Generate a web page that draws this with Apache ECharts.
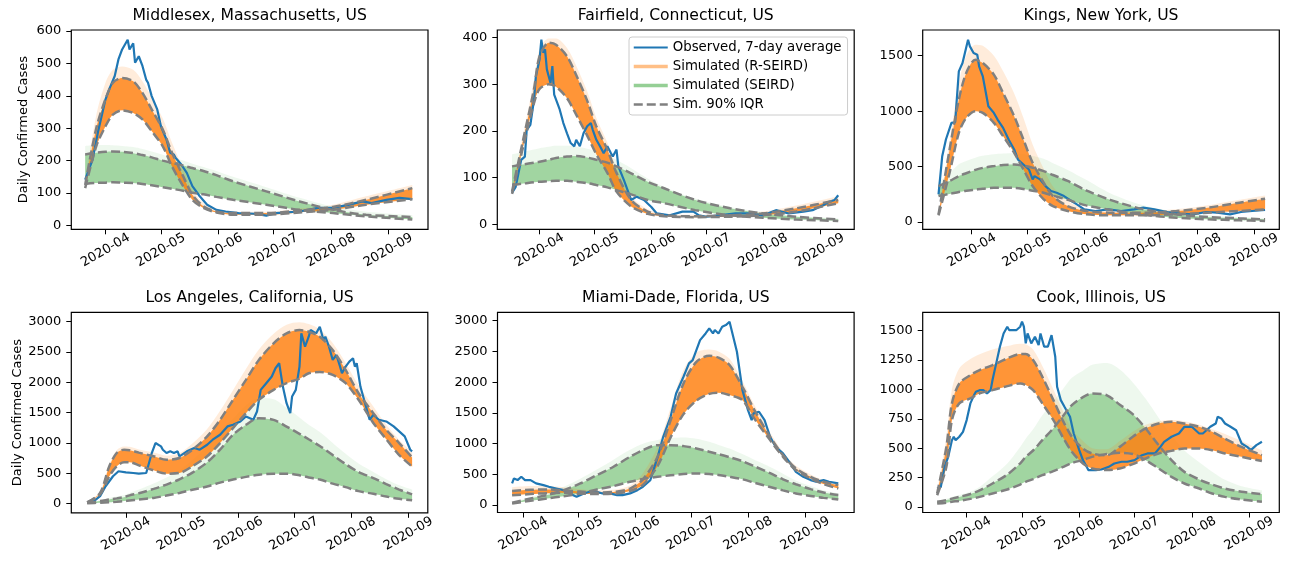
<!DOCTYPE html>
<html>
<head>
<meta charset="utf-8">
<title>Daily confirmed cases: observed vs simulated</title>
<script src="https://cdn.jsdelivr.net/npm/echarts@6/dist/echarts.min.js"></script>
<style>
    html, body { margin: 0; padding: 0; background: #fff; }
    #chart { width: 1290px; height: 564px; }
</style>
</head>
<body>
<div id="chart"></div>
<script>
//#region DATA
const titles = [
    'Middlesex, Massachusetts, US',
    'Fairfield, Connecticut, US',
    'Kings, New York, US',
    'Los Angeles, California, US',
    'Miami-Dade, Florida, US',
    'Cook, Illinois, US'
];
const monthTicks = ['04-01', '05-01', '06-01', '07-01', '08-01', '09-01'];
const ticks600 = [0, 100, 200, 300, 400, 500, 600];
const ticks400 = [0, 100, 200, 300, 400];
const ticks1500 = [0, 500, 1000, 1500];
const ticks3000 = [0, 500, 1000, 1500, 2000, 2500, 3000];
const ticks1500q = [0, 250, 500, 750, 1000, 1250, 1500];

// Middlesex
const mdxObsDates = ['03-21','03-25','03-28','04-01','04-03','04-06','04-08','04-10','04-11','04-13','04-14','04-16','04-17','04-19','04-21','04-23','04-24','04-26','04-29','05-01','05-04','05-06','05-08','05-09','05-12','05-15','05-18','05-22','05-26','05-31','06-05','06-12','06-21','06-27','07-02','07-15','07-25','08-02','08-11','08-18','08-23','08-31','09-07','09-14'];
const mdxObs = [141,203,290,389,420,461,512,543,553,573,543,562,502,522,492,450,440,399,358,306,265,224,219,208,188,162,121,90,64,48,43,38,36,30,38,43,54,54,64,74,69,79,85,81];
const mdxSimDates = ['03-21','03-27','04-01','04-05','04-10','04-16','04-21','04-26','05-02','05-07','05-13','05-18','05-24','05-31','06-09','06-27','07-15','08-02','08-20','09-14'];
const mdxOrLo = [115,244,306,342,355,347,327,291,244,182,121,79,54,40,33,33,40,48,64,81];
const mdxOrHi = [125,300,390,440,455,445,409,358,296,224,152,95,59,43,38,38,46,57,79,115];
const mdxOrMax = [135,340,440,480,490,480,445,395,330,255,175,110,68,48,42,42,52,64,90,125];
const mdxGrLo = [128,131,132,133,132,131,128,124,118,113,107,101,96,88,79,64,48,38,28,18];
const mdxGrHi = [219,224,227,228,227,223,217,210,200,193,185,177,168,155,136,105,74,48,33,26];
const mdxGrMax = [245,248,248,247,245,242,236,228,218,210,200,190,180,168,150,118,85,58,42,32];

// Fairfield
const ffdObsDates = ['03-17','03-19','03-22','03-24','03-25','03-27','03-29','03-30','04-01','04-02','04-03','04-04','04-05','04-07','04-08','04-09','04-10','04-12','04-14','04-16','04-18','04-20','04-21','04-23','04-25','04-27','04-29','04-30','05-02','05-04','05-06','05-08','05-10','05-11','05-13','05-14','05-17','05-21','05-24','05-28','06-01','06-04','06-11','06-18','06-24','06-27','07-01','07-08','07-17','07-25','08-01','08-08','08-15','08-23','08-28','09-03','09-06','09-09','09-11'];
const ffdObs = [67,80,138,145,202,213,267,317,353,396,368,375,332,303,339,278,281,246,217,195,174,167,181,167,195,210,217,203,181,167,152,167,152,145,160,124,95,52,59,52,37,23,19,27,27,19,16,19,23,23,19,30,23,27,30,41,48,52,62];
const ffdSimDates = ['03-17','03-23','03-29','04-01','04-06','04-10','04-16','04-21','04-27','05-02','05-08','05-13','05-21','05-30','06-08','06-25','07-14','08-01','08-19','09-11'];
const ffdOrLo = [65,165,260,290,300,295,270,235,190,150,110,70,38,22,17,15,16,19,27,45];
const ffdOrHi = [70,180,290,360,389,385,360,320,265,210,160,110,52,27,19,17,19,23,34,52];
const ffdOrMax = [75,190,310,375,398,398,378,340,285,228,175,120,60,32,22,20,22,27,40,60];
const ffdGrLo = [84,87,90,91,92,93,93,91,88,84,79,73,64,52,45,30,19,14,10,7];
const ffdGrHi = [124,128,132,134,138,142,145,146,143,138,132,124,109,91,77,52,34,23,16,10];
const ffdGrMax = [150,155,160,163,166,168,168,166,162,156,148,138,120,98,80,55,37,26,18,12];

// Kings
const kngObsDates = ['03-14','03-16','03-18','03-21','03-23','03-25','03-27','03-30','03-31','04-02','04-04','04-05','04-07','04-10','04-13','04-15','04-18','04-21','04-24','04-26','04-29','05-02','05-04','05-05','05-08','05-11','05-14','05-17','05-21','05-25','05-28','06-01','06-07','06-14','06-21','06-28','07-03','07-09','07-16','07-23','07-30','08-06','08-12','08-19','08-25','08-31','09-07'];
const kngObs = [249,594,744,894,900,1359,1434,1644,1584,1524,1509,1404,1314,1044,984,924,849,744,654,564,519,474,384,414,384,324,279,264,234,189,159,114,99,114,99,114,129,114,90,75,69,90,84,69,90,99,108];
const kngSimDates = ['03-14','03-20','03-25','03-29','04-03','04-07','04-13','04-18','04-24','04-29','05-04','05-10','05-15','05-23','06-02','06-15','07-03','07-21','08-07','08-24','09-07'];
const kngOrLo = [60,444,804,939,999,984,894,774,624,474,324,204,144,99,69,60,60,69,84,99,114];
const kngOrHi = [69,654,1104,1344,1464,1434,1329,1164,954,744,534,354,234,144,99,84,84,99,129,174,210];
const kngOrMax = [75,720,1250,1500,1600,1590,1500,1360,1160,940,700,480,320,190,120,100,100,115,150,200,240];
const kngGrLo = [234,253,270,282,292,300,309,309,308,298,282,264,238,200,150,110,65,38,24,15,9];
const kngGrHi = [324,370,414,440,470,488,504,515,518,508,490,459,424,370,285,200,115,68,45,33,24];
const kngGrMax = [360,440,520,550,580,597,610,617,620,613,595,570,530,470,380,260,150,90,60,42,35];

// Los Angeles
const laxObsDates = ['03-14','03-18','03-21','03-25','03-28','04-01','04-05','04-08','04-12','04-13','04-15','04-17','04-18','04-20','04-21','04-23','04-25','04-27','04-29','04-30','05-04','05-08','05-11','05-15','05-18','05-22','05-26','05-29','06-02','06-05','06-09','06-11','06-13','06-16','06-19','06-21','06-23','06-25','06-27','06-29','06-30','07-02','07-04','07-05','07-07','07-09','07-10','07-13','07-15','07-17','07-18','07-20','07-22','07-24','07-26','07-27','07-29','07-31','08-02','08-03','08-04','08-06','08-09','08-11','08-13','08-16','08-20','08-24','08-27','08-30','09-02','09-03'];
const laxObs = [25,121,285,450,532,515,504,493,504,532,833,998,1025,943,888,833,861,833,861,779,861,916,888,970,1053,1135,1272,1299,1354,1437,1382,1519,1875,1985,2095,2232,2314,1930,1656,1491,1766,1875,2259,2807,2588,2752,2862,2807,2917,2698,2752,2588,2369,2451,2259,2149,2259,2341,2396,2259,2314,1930,1601,1382,1464,1382,1354,1272,1190,1108,888,861];
const laxSimDates = ['03-11','03-18','03-23','03-27','03-31','04-03','04-08','04-16','04-23','04-30','05-07','05-15','05-22','05-29','06-05','06-12','06-20','06-27','07-04','07-09','07-15','07-22','07-29','08-05','08-13','08-20','08-27','09-03'];
const laxOrLo = [20,148,450,614,680,680,630,548,493,504,614,779,998,1245,1491,1711,1875,1985,2060,2150,2170,2122,1985,1711,1330,1060,800,610];
const laxOrHi = [20,175,614,833,888,880,840,779,724,751,888,1108,1382,1711,2040,2369,2643,2807,2862,2835,2752,2533,2204,1820,1491,1217,998,760];
const laxOrMax = [25,200,650,880,940,935,890,840,790,830,990,1230,1530,1870,2220,2540,2800,2950,2990,2960,2870,2650,2320,1950,1600,1300,1050,850];
const laxGrLo = [5,14,22,30,40,50,65,93,132,175,228,280,345,395,440,475,493,493,466,430,395,329,270,205,160,115,77,55];
const laxGrHi = [11,40,66,85,105,135,170,241,313,400,510,680,890,1135,1299,1409,1380,1270,1150,1060,950,800,650,520,420,320,230,150];
const laxGrMax = [15,50,90,115,140,175,230,330,430,550,720,950,1220,1400,1620,1740,1720,1580,1420,1300,1180,1000,820,660,520,400,300,230];

// Miami-Dade
const miaObsDates = ['03-26','03-27','03-29','03-31','04-02','04-05','04-08','04-12','04-15','04-19','04-23','04-26','04-30','05-04','05-07','05-11','05-14','05-18','05-22','05-25','05-29','06-02','06-05','06-09','06-13','06-16','06-20','06-23','06-27','06-30','07-02','07-04','07-06','07-07','07-09','07-11','07-13','07-14','07-16','07-18','07-20','07-22','07-23','07-26','07-29','08-01','08-03','08-04','08-07','08-10','08-13','08-16','08-20','08-24','08-27','08-31','09-04','09-07','09-11','09-14','09-19'];
const miaObs = [353,434,407,461,407,407,353,325,298,271,244,190,136,190,217,217,190,190,163,163,190,244,298,407,786,1112,1437,1817,2088,2305,2359,2522,2685,2712,2793,2875,2793,2848,2793,2902,2929,2983,2967,2495,1871,1546,1383,1492,1519,1383,1112,949,841,678,542,461,407,380,407,380,353];
const miaSimDates = ['03-26','04-05','04-14','04-23','05-02','05-11','05-20','05-29','06-05','06-13','06-20','06-27','07-04','07-11','07-16','07-22','07-29','08-05','08-13','08-20','08-27','09-04','09-11','09-19'];
const miaOrLo = [160,180,195,200,190,180,185,230,330,640,1100,1480,1700,1810,1830,1790,1708,1383,1058,786,570,434,342,271];
const miaOrHi = [230,250,255,240,220,205,215,270,420,790,1380,1980,2330,2430,2400,2280,1925,1519,1112,814,597,461,380,325];
const miaOrMax = [290,310,310,290,260,240,250,320,520,950,1580,2200,2480,2530,2500,2380,2020,1600,1180,860,640,500,410,350];
const miaGrLo = [27,70,108,146,190,255,309,380,425,460,485,505,515,506,490,461,420,360,295,240,190,150,118,92];
const miaGrHi = [38,108,163,244,353,488,624,786,895,976,976,960,922,868,830,780,715,625,520,420,340,260,205,163];
const miaGrMax = [45,130,200,300,430,580,740,900,1000,1060,1090,1100,1080,1030,980,920,830,730,620,510,400,310,240,190];

// Cook
const cokObsDates = ['03-16','03-18','03-20','03-22','03-24','03-25','03-26','03-28','03-30','04-01','04-03','04-05','04-06','04-08','04-10','04-12','04-14','04-15','04-17','04-19','04-21','04-23','04-24','04-28','04-30','05-01','05-02','05-03','05-04','05-06','05-08','05-10','05-11','05-13','05-15','05-17','05-19','05-20','05-22','05-24','05-27','05-29','06-01','06-03','06-05','06-06','06-10','06-13','06-17','06-20','06-24','06-27','07-01','07-05','07-08','07-12','07-15','07-17','07-21','07-25','07-28','08-01','08-05','08-07','08-11','08-14','08-15','08-17','08-19','08-22','08-25','08-28','08-31','09-02','09-05','09-06','09-08'];
const cokObs = [156,170,341,426,568,597,568,597,639,739,881,952,980,994,994,966,994,1080,1222,1364,1477,1534,1506,1506,1534,1577,1534,1392,1477,1392,1449,1378,1477,1364,1364,1463,1278,1023,909,852,767,625,483,398,341,313,313,318,341,369,384,384,398,440,455,455,511,554,597,625,682,682,625,625,682,710,767,753,710,682,653,540,511,483,526,526,554];
const cokSimDates = ['03-16','03-21','03-24','03-28','04-03','04-08','04-15','04-23','04-30','05-03','05-07','05-12','05-18','05-23','05-28','06-03','06-08','06-16','06-23','06-30','07-07','07-14','07-21','07-28','08-05','08-12','08-19','08-28','09-08'];
const cokOrLo = [99,341,739,881,923,966,994,1028,1051,1037,994,881,739,597,469,369,327,313,327,364,412,455,477,497,497,483,455,426,390];
const cokOrHi = [114,511,881,1051,1122,1165,1207,1264,1301,1301,1250,1108,909,739,597,497,455,440,511,597,668,710,724,710,682,639,580,510,440];
const cokOrMax = [130,600,1000,1180,1260,1300,1340,1370,1390,1385,1340,1200,1000,820,660,560,500,490,560,640,700,730,740,730,700,660,620,560,480];
const cokGrLo = [28,36,44,51,68,85,114,148,190,213,236,270,305,338,373,400,426,450,460,450,398,327,256,199,156,114,85,63,43];
const cokGrHi = [43,58,70,85,110,140,199,275,370,426,480,568,670,770,866,935,966,950,870,790,668,526,398,298,233,190,156,128,108];
const cokGrMax = [50,70,85,100,130,170,260,370,510,580,660,780,900,1000,1100,1160,1210,1225,1170,1060,920,760,610,480,380,300,230,175,140];
//#endregion DATA

//#region LAYOUT
const day = s => {
    const [m, d] = s.split('-').map(Number);
    return new Date(2020, m - 1, d).getTime();
};
const at = (m, d, h) => new Date(2020, m - 1, d, h).getTime();

const boxes = [
    { left: 71.3, top: 30, width: 356.7, height: 199.3 },
    { left: 497.3, top: 30, width: 356.9, height: 199.3 },
    { left: 922.7, top: 30, width: 356.6, height: 199.3 },
    { left: 71.3, top: 312.3, width: 356.5, height: 200.5 },
    { left: 497.5, top: 312.3, width: 356.6, height: 200.2 },
    { left: 922.7, top: 312.3, width: 356.6, height: 200.2 }
];

const panels = [
    { obsD: mdxObsDates, obs: mdxObs, simD: mdxSimDates, orLo: mdxOrLo, orHi: mdxOrHi, orMax: mdxOrMax, grLo: mdxGrLo, grHi: mdxGrHi, grMax: mdxGrMax,
      ticks: ticks600, y: [-12, 603], x: [at(3, 13, 12), at(9, 22, 12)], yName: true },
    { obsD: ffdObsDates, obs: ffdObs, simD: ffdSimDates, orLo: ffdOrLo, orHi: ffdOrHi, orMax: ffdOrMax, grLo: ffdGrLo, grHi: ffdGrHi, grMax: ffdGrMax,
      ticks: ticks400, y: [-11, 416.5], x: [at(3, 8, 23), at(9, 19, 17)] },
    { obsD: kngObsDates, obs: kngObs, simD: kngSimDates, orLo: kngOrLo, orHi: kngOrHi, orMax: kngOrMax, grLo: kngGrLo, grHi: kngGrHi, grMax: kngGrMax,
      ticks: ticks1500, y: [-66, 1732], x: [at(3, 5, 10), at(9, 14, 17)] },
    { obsD: laxObsDates, obs: laxObs, simD: laxSimDates, orLo: laxOrLo, orHi: laxOrHi, orMax: laxOrMax, grLo: laxGrLo, grHi: laxGrHi, grMax: laxGrMax,
      ticks: ticks3000, y: [-153, 3155], x: [at(3, 2, 10), at(9, 11, 12)], yName: true },
    { obsD: miaObsDates, obs: miaObs, simD: miaSimDates, orLo: miaOrLo, orHi: miaOrHi, orMax: miaOrMax, grLo: miaGrLo, grHi: miaGrHi, grMax: miaGrMax,
      ticks: ticks3000, y: [-120, 3137], x: [at(3, 18, 2), at(9, 27, 14)] },
    { obsD: cokObsDates, obs: cokObs, simD: cokSimDates, orLo: cokOrLo, orHi: cokOrHi, orMax: cokOrMax, grLo: cokGrLo, grHi: cokGrHi, grMax: cokGrMax,
      ticks: ticks1500q, y: [-48, 1657], x: [at(3, 8, 4), at(9, 17, 10)] }
];
//#endregion LAYOUT

//#region CHART
const OBS = 'Observed, 7-day average';
const RSEIRD = 'Simulated (R-SEIRD)';
const SEIRD = 'Simulated (SEIRD)';
const IQR = 'Sim. 90% IQR';
const SMOOTH = 0.3;
const monthVals = monthTicks.map(day);

const pairs = (dates, vals) => dates.map((d, i) => [day(d), vals[i]]);
const gaps = (dates, lo, hi) => dates.map((d, i) => [day(d), hi[i] - lo[i]]);
const fmtMonth = v => {
    const d = new Date(v);
    return d.getFullYear() + '-' + String(d.getMonth() + 1).padStart(2, '0');
};

const series = [];

// filled band between lo and hi, stacked so the area sits only between them
function band(i, key, dates, lo, hi, color) {
    const base = {
        type: 'line', xAxisIndex: i, yAxisIndex: i, stack: key, symbol: 'none',
        smooth: SMOOTH, silent: true, z: 2,
        lineStyle: { width: 0, opacity: 0 }
    };
    series.push(Object.assign({ name: key + '-lo', data: pairs(dates, lo) }, base));
    series.push(Object.assign({ name: key + '-fill', data: gaps(dates, lo, hi),
        areaStyle: { color: color, opacity: 1 } }, base));
}

function dashed(i, dates, vals) {
    series.push({
        type: 'line', name: IQR, xAxisIndex: i, yAxisIndex: i, data: pairs(dates, vals),
        symbol: 'none', smooth: SMOOTH, silent: true, z: 4,
        itemStyle: { color: '#808080' },
        lineStyle: { color: '#808080', width: 2.5, type: [9, 4] }
    });
}

panels.forEach((p, i) => {
    band(i, 'g' + i + 'out', p.simD, p.grLo, p.grMax, 'rgba(44,160,44,0.08)');
    band(i, 'g' + i + 'in', p.simD, p.grLo, p.grHi, 'rgba(44,160,44,0.4)');
    band(i, 'o' + i + 'out', p.simD, p.orLo, p.orMax, 'rgba(255,127,14,0.15)');
    band(i, 'o' + i + 'in', p.simD, p.orLo, p.orHi, 'rgba(255,127,14,0.8)');
    series.push({
        type: 'line', name: OBS, xAxisIndex: i, yAxisIndex: i, data: pairs(p.obsD, p.obs),
        symbol: 'none', silent: true, z: 3,
        itemStyle: { color: '#1f77b4' },
        lineStyle: { color: '#1f77b4', width: 2.2 }
    });
    dashed(i, p.simD, p.orLo);
    dashed(i, p.simD, p.orHi);
    dashed(i, p.simD, p.grLo);
    dashed(i, p.simD, p.grHi);
});

// legend-only entries for the two ensembles
series.push({
    type: 'line', name: RSEIRD, xAxisIndex: 1, yAxisIndex: 1, data: [], symbol: 'none',
    itemStyle: { color: 'rgba(255,127,14,0.5)' },
    lineStyle: { color: 'rgba(255,127,14,0.5)', width: 3.5 }
});
series.push({
    type: 'line', name: SEIRD, xAxisIndex: 1, yAxisIndex: 1, data: [], symbol: 'none',
    itemStyle: { color: 'rgba(44,160,44,0.5)' },
    lineStyle: { color: 'rgba(44,160,44,0.5)', width: 3.5 }
});

const tickStyle = { color: '#000', width: 1 };

// hidden time axes carry the data (so stacking runs on y); value axes on the
// same grids only draw the month ticks and labels
const dataAxes = panels.map((p, i) => ({
    type: 'time', gridIndex: i, position: 'top', show: false, min: p.x[0], max: p.x[1]
}));
const tickAxes = panels.map((p, i) => ({
    type: 'value', gridIndex: i, position: 'bottom', min: p.x[0], max: p.x[1],
    splitLine: { show: false },
    axisLine: { show: false },
    axisTick: { show: true, customValues: monthVals, length: 5, lineStyle: tickStyle },
    axisLabel: {
        customValues: monthVals, formatter: fmtMonth, rotate: 30,
        align: 'center', verticalAlign: 'middle', margin: 21,
        fontSize: 13, color: '#000', fontFamily: 'DejaVu Sans'
    }
}));

const chart = echarts.init(document.getElementById('chart'), null, { renderer: 'canvas' });
chart.setOption({
    animation: false,
    backgroundColor: '#fff',
    textStyle: { fontFamily: 'DejaVu Sans' },
    title: boxes.map((b, i) => ({
        text: titles[i],
        left: b.left + b.width / 2,
        top: b.top - 22,
        textAlign: 'center',
        padding: 0,
        textStyle: { fontSize: 15.6, fontWeight: 'normal', color: '#000', fontFamily: 'DejaVu Sans' }
    })),
    legend: {
        data: [OBS, RSEIRD, SEIRD, IQR],
        orient: 'vertical',
        left: 629,
        top: 37,
        itemWidth: 34,
        itemHeight: 14,
        itemGap: 6,
        padding: [4, 6, 4, 3],
        backgroundColor: 'rgba(255,255,255,0.8)',
        borderColor: '#cccccc',
        borderWidth: 1,
        borderRadius: 3,
        selectedMode: false,
        z: 10,
        itemStyle: { opacity: 0 },
        lineStyle: { width: 'inherit' },
        textStyle: { fontSize: 13.3, color: '#000', fontFamily: 'DejaVu Sans' }
    },
    grid: boxes.map(b => ({
        left: b.left, top: b.top, width: b.width, height: b.height,
        show: true, borderColor: '#000', borderWidth: 1.2,
        backgroundColor: 'transparent', outerBoundsMode: 'none'
    })),
    xAxis: dataAxes.concat(tickAxes),
    yAxis: panels.map((p, i) => ({
        type: 'value', gridIndex: i, min: p.y[0], max: p.y[1],
        splitLine: { show: false },
        axisLine: { show: false },
        axisTick: { show: true, customValues: p.ticks, length: 5, lineStyle: tickStyle },
        axisLabel: {
            customValues: p.ticks, formatter: v => String(v), margin: 10,
            fontSize: 13, color: '#000', fontFamily: 'DejaVu Sans'
        },
        name: p.yName ? 'Daily Confirmed Cases' : '',
        nameLocation: 'middle',
        nameGap: 41,
        nameTextStyle: { fontSize: 13, color: '#000', fontFamily: 'DejaVu Sans' }
    })),
    series: series
});
//#endregion CHART
</script>
</body>
</html>
